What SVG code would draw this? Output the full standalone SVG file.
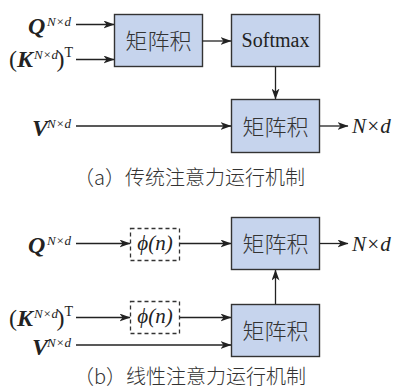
<svg xmlns="http://www.w3.org/2000/svg" width="394" height="391" viewBox="0 0 394 391">
  <defs>
    <marker id="arrow" viewBox="0 0 11 8" refX="10.5" refY="4" markerWidth="11" markerHeight="8" markerUnits="userSpaceOnUse" orient="auto">
      <path d="M0,0 L11,4 L0,8 L3,4 z" fill="#222"/>
    </marker>
    <style>
      .box { fill: #c6d4ed; stroke: #333; stroke-width: 1.4; }
      .dash { fill: #fff; stroke: #333; stroke-width: 1.3; stroke-dasharray: 4 3; }
      .wire { fill: none; stroke: #222; stroke-width: 1.3; }
      .arr { marker-end: url(#arrow); }
      .cjk { font-size: 22px; fill: #333; text-anchor: middle; font-weight: 300; }
      .cap { font-size: 20px; fill: #333; font-weight: 300; }
      .serif { fill: #222; }
      .rm { font-size: 20px; }
      .bi { font-size: 24px; font-weight: bold; font-style: italic; }
      .sup { font-size: 13px; font-style: italic; }
      .supr { font-size: 14px; }
      .par { font-size: 24px; }
      .it { font-size: 21px; font-style: italic; }
    </style>
  </defs>

  <!-- (a) standard attention -->
  <g id="a-label-q" class="serif" font-family="Liberation Serif, serif">
    <text class="bi" x="28" y="34">Q</text>
    <text class="sup" x="47" y="26">N×d</text>
  </g>
  <g id="a-label-k" class="serif" font-family="Liberation Serif, serif">
    <text class="par" x="9" y="67">(</text>
    <text class="bi" x="17" y="67">K</text>
    <text class="sup" x="34" y="59">N×d</text>
    <text class="par" x="56.5" y="67">)</text>
    <text class="supr" x="64.5" y="57">T</text>
  </g>
  <g id="a-label-v" class="serif" font-family="Liberation Serif, serif">
    <text class="bi" x="32" y="136">V</text>
    <text class="sup" x="47" y="128">N×d</text>
  </g>

  <g id="a-matmul1">
    <rect class="box" x="114.5" y="14.5" width="88" height="52"/>
    <text class="cjk" font-family="Noto Sans CJK SC, sans-serif" x="158.5" y="48.5">矩阵积</text>
  </g>
  <g id="a-softmax">
    <rect class="box" x="231.5" y="14.5" width="88" height="52"/>
    <text class="serif rm" font-family="Liberation Serif, serif" x="275.5" y="47" text-anchor="middle">Softmax</text>
  </g>
  <g id="a-matmul2">
    <rect class="box" x="231.5" y="99.5" width="88" height="53"/>
    <text class="cjk" font-family="Noto Sans CJK SC, sans-serif" x="275.5" y="134.5">矩阵积</text>
  </g>
  <g id="a-output">
    <text class="serif it" font-family="Liberation Serif, serif" x="352" y="133">N×d</text>
  </g>
  <g id="a-caption">
    <text class="cap" font-family="Noto Sans CJK SC, sans-serif" x="74" y="185">（a）传统注意力运行机制</text>
  </g>

  <!-- (b) linear attention -->
  <g id="b-label-q" class="serif" font-family="Liberation Serif, serif">
    <text class="bi" x="28" y="253">Q</text>
    <text class="sup" x="47" y="245">N×d</text>
  </g>
  <g id="b-label-k" class="serif" font-family="Liberation Serif, serif">
    <text class="par" x="9" y="326">(</text>
    <text class="bi" x="17" y="326">K</text>
    <text class="sup" x="34" y="318">N×d</text>
    <text class="par" x="56.5" y="326">)</text>
    <text class="supr" x="64.5" y="316">T</text>
  </g>
  <g id="b-label-v" class="serif" font-family="Liberation Serif, serif">
    <text class="bi" x="32" y="355">V</text>
    <text class="sup" x="47" y="347">N×d</text>
  </g>

  <g id="b-phi-q">
    <rect class="dash" x="130.5" y="228.5" width="49" height="32"/>
    <text class="serif it" font-family="Liberation Serif, serif" x="155" y="250" text-anchor="middle">ϕ(n)</text>
  </g>
  <g id="b-phi-k">
    <rect class="dash" x="130.5" y="301.5" width="49" height="32"/>
    <text class="serif it" font-family="Liberation Serif, serif" x="155" y="323" text-anchor="middle">ϕ(n)</text>
  </g>
  <g id="b-matmul-top">
    <rect class="box" x="231.5" y="217.5" width="88" height="52"/>
    <text class="cjk" font-family="Noto Sans CJK SC, sans-serif" x="275.5" y="251.5">矩阵积</text>
  </g>
  <g id="b-matmul-bottom">
    <rect class="box" x="231.5" y="304.5" width="88" height="52"/>
    <text class="cjk" font-family="Noto Sans CJK SC, sans-serif" x="275.5" y="338.5">矩阵积</text>
  </g>
  <g id="b-output">
    <text class="serif it" font-family="Liberation Serif, serif" x="352" y="251">N×d</text>
  </g>
  <g id="b-caption">
    <text class="cap" font-family="Noto Sans CJK SC, sans-serif" x="74" y="384">（b）线性注意力运行机制</text>
  </g>

  <g id="connectors">
    <!-- (a) -->
    <line class="wire arr" x1="76" y1="24.5" x2="114" y2="24.5"/>
    <line class="wire arr" x1="76" y1="59.5" x2="114" y2="59.5"/>
    <line class="wire arr" x1="202" y1="41" x2="231" y2="41"/>
    <line class="wire arr" x1="275.5" y1="67" x2="275.5" y2="99"/>
    <line class="wire arr" x1="76" y1="126" x2="231" y2="126"/>
    <line class="wire arr" x1="320" y1="126" x2="348" y2="126"/>
    <!-- (b) -->
    <line class="wire arr" x1="76" y1="243.5" x2="130" y2="243.5"/>
    <line class="wire arr" x1="180" y1="243.5" x2="231" y2="243.5"/>
    <line class="wire arr" x1="320" y1="243.5" x2="348" y2="243.5"/>
    <line class="wire arr" x1="76" y1="317.5" x2="130" y2="317.5"/>
    <line class="wire arr" x1="180" y1="317.5" x2="231" y2="317.5"/>
    <line class="wire arr" x1="76" y1="345" x2="231" y2="345"/>
    <line class="wire arr" x1="275.5" y1="304" x2="275.5" y2="270"/>
  </g>
</svg>
